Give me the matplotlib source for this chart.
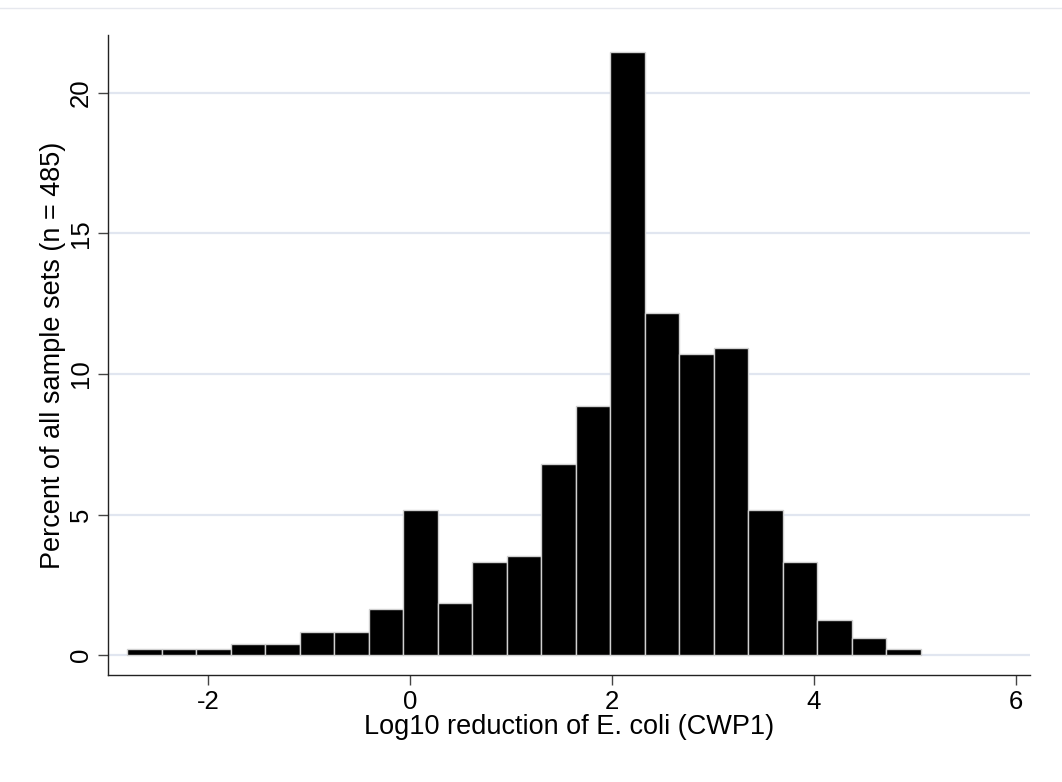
import matplotlib
matplotlib.use("Agg")
import matplotlib.pyplot as plt
from matplotlib.lines import Line2D

plt.rcParams['font.family'] = ['Liberation Sans', 'DejaVu Sans']

# histogram data: bin left edges and percent of samples
bin_start = -2.80
bin_width = 0.3417
percent = [0.21, 0.21, 0.21, 0.41, 0.41, 0.82, 0.82, 1.65, 5.15, 1.86, 3.30, 3.51,
           6.80, 8.87, 21.44, 12.16, 10.72, 10.93, 5.15, 3.30, 1.24, 0.62, 0.21]
x_ticks = [-2, 0, 2, 4, 6]
y_ticks = [0, 5, 10, 15, 20]

edges = [bin_start + i * bin_width for i in range(len(percent))]

fig = plt.figure(figsize=(10.62, 7.82), dpi=100)
ax = fig.add_axes([0.1017, 0.1368, 0.8683, 0.8184])

for y in y_ticks:
    ax.axhline(y, color='#e1e6f0', lw=1.6, zorder=0)

ax.bar(edges, percent, width=bin_width, align='edge', color='black',
       edgecolor='#d0d0d0', linewidth=1.0, zorder=2)

ax.set_xlim(-2.99, 6.14)
ax.set_ylim(-0.71, 22.06)
ax.set_xticks(x_ticks)
ax.set_xticklabels([str(t) for t in x_ticks])
ax.set_yticks(y_ticks)
ax.set_yticklabels([str(t) for t in y_ticks], rotation=90, va='center')

ax.spines['top'].set_visible(False)
ax.spines['right'].set_visible(False)
for s in ['left', 'bottom']:
    ax.spines[s].set_linewidth(1.0)
    ax.spines[s].set_color('#222222')
ax.tick_params(axis='both', length=7, width=1.0, color='#444444', labelsize=18.5, pad=4)

ax.set_xlabel('Log10 reduction of E. coli (CWP1)', fontsize=19.5, labelpad=0)
ax.set_ylabel('Percent of all sample sets (n = 485)', fontsize=19.5, labelpad=2)

# faint outer region line at top
fig.add_artist(Line2D([0, 1], [0.99, 0.99], color='#e6e8ee', lw=1.0))

fig.savefig('out.png', dpi=100)
